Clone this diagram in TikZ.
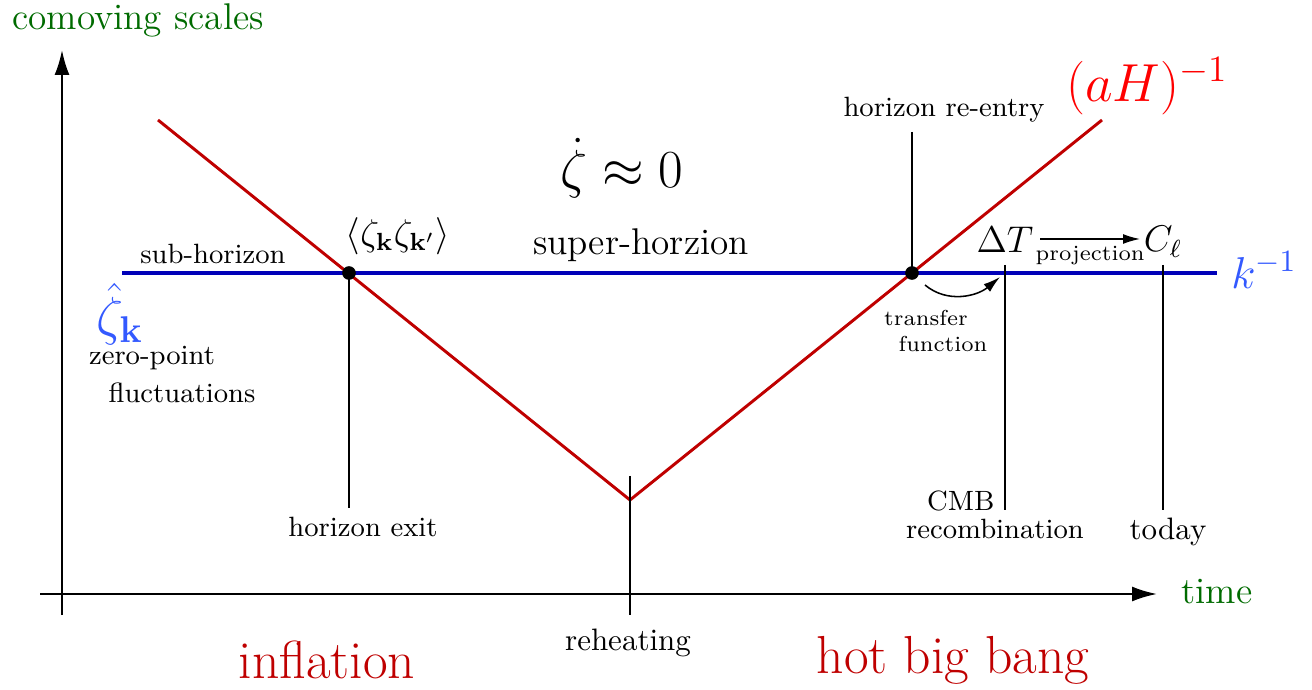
\documentclass[tikz,border=0pt]{standalone}
\usepackage{amsmath,amssymb}
\usetikzlibrary{arrows.meta}
\definecolor{dred}{rgb}{0.75,0,0}
\definecolor{dblue}{rgb}{0,0,0.72}
\definecolor{lblue}{rgb}{0.2,0.35,1}
\definecolor{dgreen}{rgb}{0,0.42,0}
\begin{document}
\begin{tikzpicture}[x=0.3226pt,y=-0.3226pt,
  lab/.style={inner sep=0pt,font=\small},
  tick/.style={line width=0.45pt},
  dotnode/.style={circle,fill=black,inner sep=0pt,minimum size=4.4pt},
  axis/.style={line width=0.7pt,-{Latex[length=8pt,width=4.8pt]}}]
\useasboundingbox (0,0) rectangle (1312,690);
% axes
\coordinate (vb) at (62,615);
\coordinate (vt) at (62,50);
\coordinate (hl) at (40,594);
\coordinate (hr) at (1157,594);
\draw[axis] (vb) -- (vt);
\draw[axis] (hl) -- (hr);
\node[inner sep=0pt,text=dgreen,font=\large] (ylab) at (138,20) {comoving scales};
\node[inner sep=0pt,text=dgreen,font=\large] (xlab) at (1217,592) {time};
% blue line
\coordinate (bl) at (122,273);
\coordinate (br) at (1217,273);
\draw[dblue,line width=1.6pt] (bl) -- (br);
% red line
\coordinate (r1) at (158,120);
\coordinate (r2) at (630,500);
\coordinate (r3) at (1102,120);
\draw[dred,line width=0.95pt] (r1) -- (r2) -- (r3);
% dots
\node[dotnode] (d1) at (349,273) {};
\node[dotnode] (d2) at (912,273) {};
% ticks
\coordinate (exb) at (349,508);
\draw[tick] (d1.center) -- (exb);
\node[lab] (exit) at (363,527) {horizon exit};
\coordinate (rht) at (630,476);
\coordinate (rhb) at (630,615);
\draw[tick] (rht) -- (rhb);
\node[lab,font=\normalsize] (reh) at (628,643) {reheating};
\coordinate (ret) at (912,132);
\draw[tick] (ret) -- (d2.center);
\node[lab] (reentry) at (944,110) {horizon re-entry};
\coordinate (cmt) at (1005,265);
\coordinate (cmb) at (1005,510);
\draw[tick] (cmt) -- (cmb);
\node[lab,anchor=east] (cmbl) at (995,501) {CMB};
\node[lab] (recomb) at (995,529) {recombination};
\coordinate (tdt) at (1163,265);
\coordinate (tdb) at (1163,510);
\draw[tick] (tdt) -- (tdb);
\node[lab,font=\normalsize] (today) at (1168,532) {today};
% Delta T, C_l
\node[inner sep=1pt,font=\large] (dT) at (1005,240) {$\Delta T$};
\node[inner sep=1pt,font=\large] (Cl) at (1163,242) {$C_\ell$};
\draw[line width=0.5pt,-{Latex[length=5.5pt,width=3.2pt]}] (dT.east) ++(1pt,-1) coordinate (pa) -- (pa -| Cl.west) node[midway,below=2pt,inner sep=0pt,font=\scriptsize] (proj) {projection};
% transfer
\node[lab,font=\scriptsize] (transfer) at (926,318) {transfer};
\node[lab,font=\scriptsize] (function) at (943,344) {function};
\coordinate (ta) at (925,285);
\coordinate (tb) at (1000,277);
\draw[line width=0.5pt,-{Latex[length=5.5pt,width=3.2pt]}] (ta) to[out=-40,in=-140] (tb);
% labels
\node[lab] (sub) at (213,254) {sub-horizon};
\node[inner sep=0pt,font=\large] (super) at (641,245) {super-horzion};
\node[inner sep=0pt,font=\LARGE] (zdot) at (622,168) {$\dot\zeta\approx 0$};
\node[inner sep=0pt,font=\large] (corr) at (398,236) {$\langle\zeta_{\mathbf k}\zeta_{\mathbf k'}\rangle$};
\node[inner sep=0pt,text=red,font=\LARGE] (aH) at (1147,86) {$(aH)^{-1}$};
\node[inner sep=0pt,text=lblue,font=\Large] (kinv) at (1264,270) {$k^{-1}$};
\node[inner sep=0pt,text=lblue,font=\LARGE] (zhat) at (120,314) {$\hat\zeta_{\mathbf k}$};
\node[lab] (zp) at (152,358) {zero-point};
\node[lab] (fl) at (182,393) {fluctuations};
\node[inner sep=0pt,text=dred,font=\LARGE] (infl) at (327,660) {inflation};
\node[inner sep=0pt,text=dred,font=\LARGE] (hbb) at (953,660) {hot big bang};
\end{tikzpicture}
\end{document}
